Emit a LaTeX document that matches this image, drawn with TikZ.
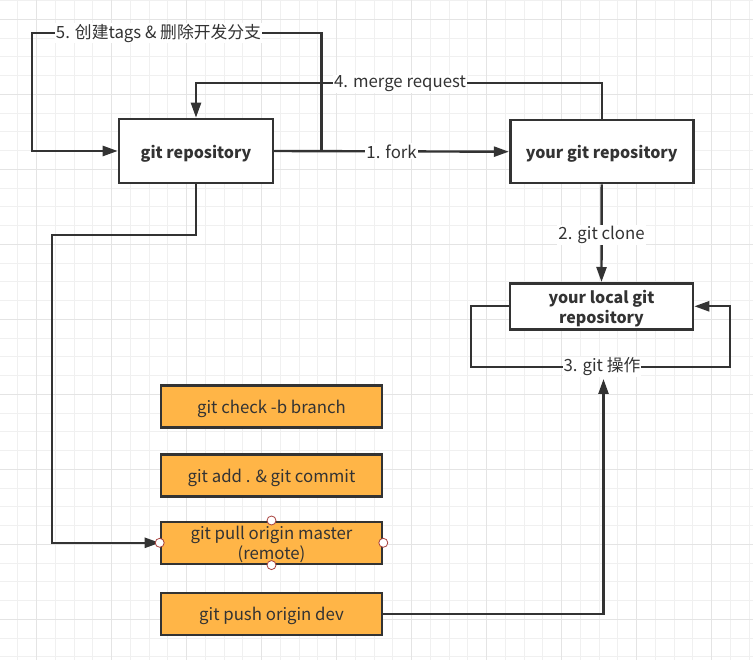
\documentclass[tikz,border=0pt]{standalone}
\usepackage{fontspec}
\setmainfont{Noto Sans CJK SC}
\usetikzlibrary{arrows.meta}
\definecolor{ink}{HTML}{333333}
\definecolor{boxorange}{HTML}{FFB547}
\definecolor{gridminor}{HTML}{F0F0F0}
\definecolor{gridmajor}{HTML}{E4E4E4}
\definecolor{handle}{HTML}{A8403C}
\begin{document}
\begin{tikzpicture}[x=1pt,y=-1pt,
  repo/.style={draw=ink, line width=2.6pt, fill=white, inner sep=0pt,
    label={[text=ink, align=center, inner sep=0pt, yshift=-2.5pt,
      font=\fontsize{16}{20}\selectfont\bfseries]center:#1}},
  cmdbox/.style={draw=ink, line width=2.6pt, fill=boxorange, inner sep=0pt,
    minimum width=221pt, minimum height=42pt,
    label={[text=ink, align=center, inner sep=0pt, yshift=-2pt,
      font=\fontsize{16.8}{20}\selectfont]center:#1}},
  conn/.style={draw=ink, line width=2.4pt, -{Triangle[length=15pt,width=10pt]}},
  lbl/.style={fill=white, text=ink, inner sep=1pt, font=\fontsize{16.8}{19}\selectfont},
  handledot/.style={circle, draw=handle, fill=white, line width=0.8pt, minimum size=9pt, inner sep=0pt}
]
\useasboundingbox (0,0) rectangle (753,660);
\fill[white] (0,0) rectangle (753,660);
% grid
\foreach \i in {0,...,40} {
  \draw[gridminor, line width=1pt] ({-0.8+18.75*\i},0) -- ({-0.8+18.75*\i},660);
}
\foreach \j in {0,...,35} {
  \draw[gridminor, line width=1pt] (0,{0.55+18.75*\j}) -- (753,{0.55+18.75*\j});
}
\foreach \i in {0,...,9} {
  \draw[gridmajor, line width=1pt] ({36.7+75*\i},0) -- ({36.7+75*\i},660);
}
\foreach \j in {0,...,8} {
  \draw[gridmajor, line width=1pt] (0,{19.3+75*\j}) -- (753,{19.3+75*\j});
}

% nodes
\node[repo={git repository}, minimum width=154pt, minimum height=64pt] (gr) at (196,151) {};
\node[repo={your git repository}, minimum width=183pt, minimum height=63pt] (ygr) at (601.7,151.7) {};
\node[repo={your local git\\repository}, minimum width=183pt, minimum height=46pt] (lr) at (601.5,306.3) {};

\node[cmdbox={git check -b branch}] (chk) at (271.5,406.8) {};
\node[cmdbox={git add . \& git commit}] (add) at (271.5,475.5) {};
\node[cmdbox={git pull origin master\\(remote)}] (pull) at (271.5,542.8) {};
\node[cmdbox={git push origin dev}] (push) at (271.5,613.8) {};

\coordinate (c5) at (32,33);
\coordinate (c3) at (730,367);
\coordinate (cpull) at (52,235);
\coordinate (cpush) at (603.5,379);

% connectors
\draw[conn] (gr.east) -- ++(47,0) |- (c5) |- (gr.west);
\node[lbl] (l5) at (158.5,33) {5. 创建tags \& 删除开发分支};

\draw[conn] (ygr.north) -- ++(0,-36) -| (gr.north);
\node[lbl] (l4) at (400,84) {4. merge request};

\draw[conn] (gr.east) -- node[lbl] (l1) {1. fork} (ygr.west);

\draw[conn] (ygr.south) -- node[lbl, pos=0.52] (l2) {2. git clone} (lr.north);

\draw[conn] (lr.west) -- ++(-38,0) |- (c3) |- (lr.east);
\node[lbl] (l3) at (602,367) {3. git 操作};

\draw[conn] (gr.south) |- (cpull) |- (pull.west);

\draw[conn] (push.east) -| (cpush);

% selection handles on pull box
\node[handledot] (hw) at (pull.west) {};
\node[handledot] (he) at (pull.east) {};
\node[handledot] (hn) at (pull.north) {};
\node[handledot] (hs) at (pull.south) {};
\end{tikzpicture}
\end{document}
